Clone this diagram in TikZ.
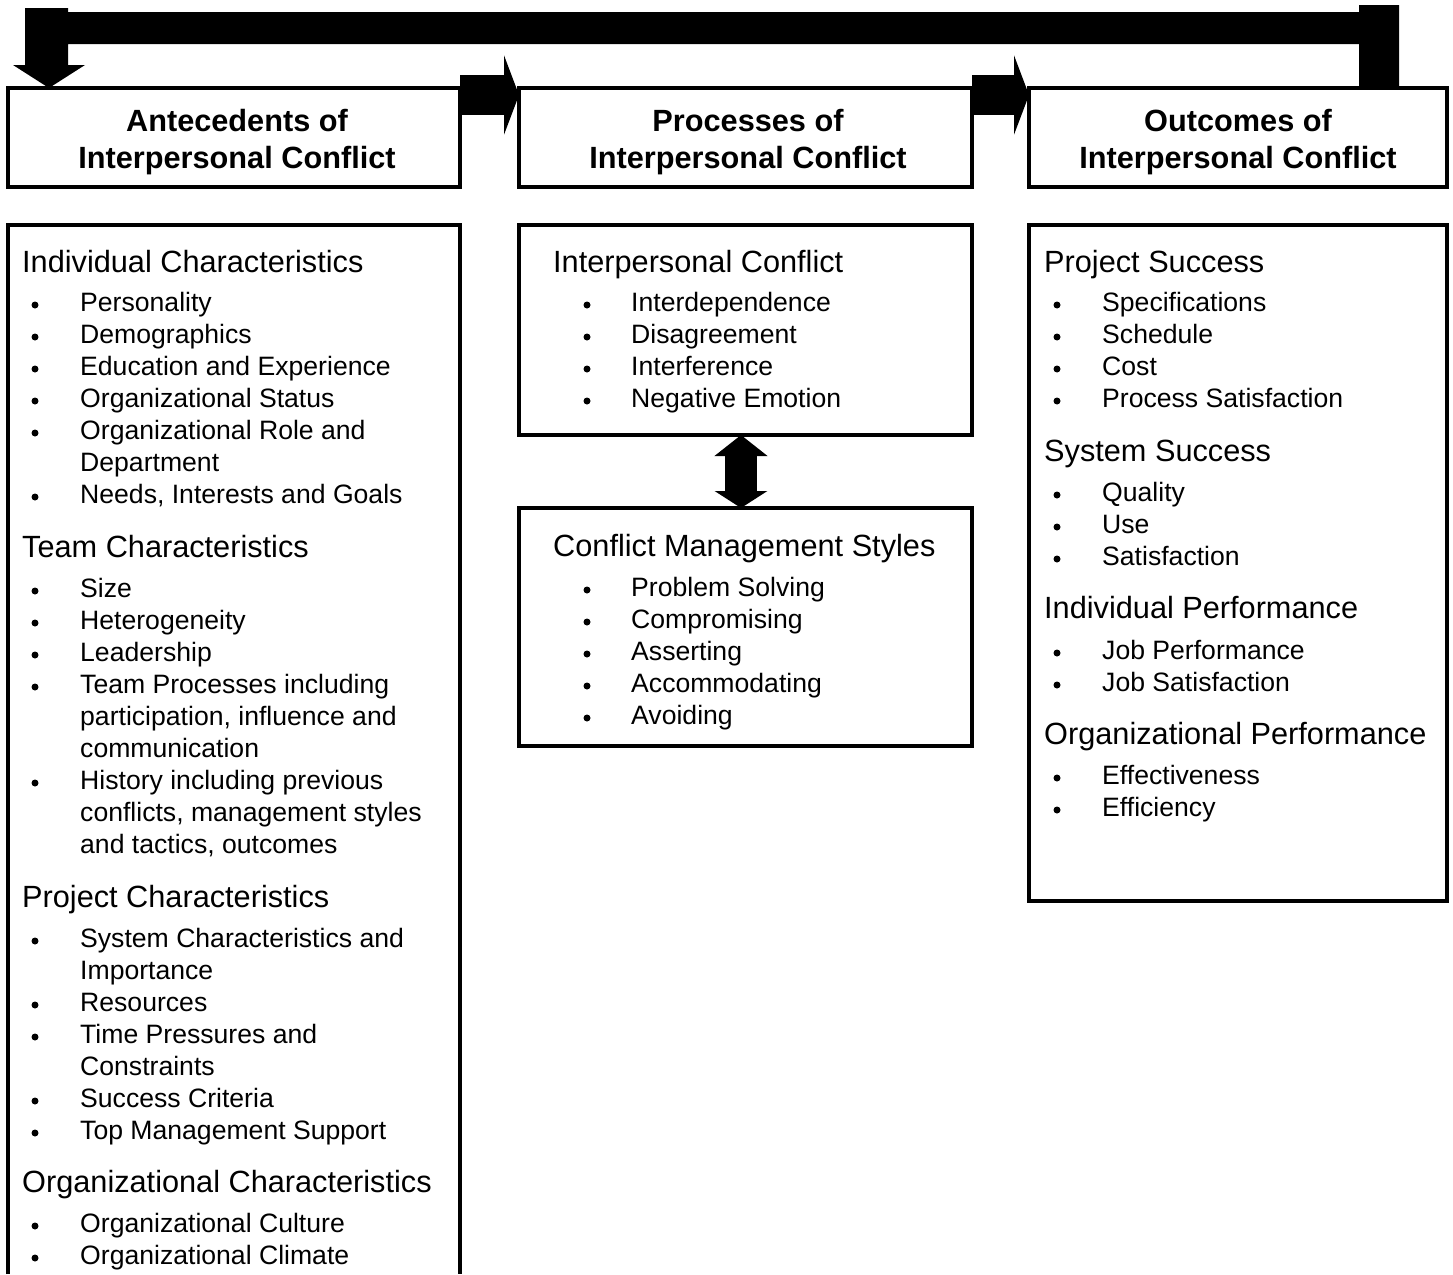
\documentclass[tikz,border=0pt]{standalone}
\usepackage{fontspec}
\setmainfont{Liberation Sans}
\usetikzlibrary{arrows.meta}
\newcommand\hdrfont{\fontsize{30.7}{33}\selectfont\bfseries}
\newcommand\secfont{\fontsize{30.7}{36}\selectfont}
\newcommand\itmfont{\fontsize{26.6}{32}\selectfont}
\begin{document}
\begin{tikzpicture}[x=1pt,y=-1pt,
  frame/.style={draw, line width=3.5pt, inner sep=0, outer sep=0},
  openbox/.style={inner sep=0, outer sep=0},
  wire/.style={line width=3.5pt},
  blockarrow/.style={line width=40pt, -{Triangle[length=15pt,width=79pt]}},
  dblarrow/.style={line width=32pt, {Triangle[length=21pt,width=52pt]}-{Triangle[length=17pt,width=52pt]}},
  hdr/.style={anchor=base, inner sep=0, font=\hdrfont},
  sec/.style={anchor=base west, inner sep=0, font=\secfont},
  itm/.style={anchor=base west, inner sep=0, font=\itmfont},
  dot/.style={circle, fill, inner sep=0, minimum size=7pt}]
\useasboundingbox (0,0) rectangle (1453,1274);

% header boxes
\node[frame, minimum width=452pt, minimum height=99pt] (A) at (234,137.5) {};
\node[frame, minimum width=453pt, minimum height=99pt] (B) at (745.5,137.5) {};
\node[frame, minimum width=418pt, minimum height=99pt] (C) at (1238,137.5) {};
\node[hdr] (A-t1) at (237,131) {Antecedents of};
\node[hdr] (A-t2) at (237,168) {Interpersonal Conflict};
\node[hdr] (B-t1) at (748,131) {Processes of};
\node[hdr] (B-t2) at (748,168) {Interpersonal Conflict};
\node[hdr] (C-t1) at (1238,131) {Outcomes of};
\node[hdr] (C-t2) at (1238,168) {Interpersonal Conflict};

% forward arrows between the stages
\draw[blockarrow] ([yshift=-7pt]A.north east) -- ([yshift=-7pt]B.north west);
\draw[blockarrow] ([yshift=-7pt]B.north east) -- ([yshift=-7pt]C.north west);

% feedback from outcomes back to antecedents
\fill (C.north -| 1359,0) -- (1359,44) -- (68,44) -- (68,65) -- (85,65)
  -- (A.north -| 49,0) -- (13,65) -- (25,65) -- (25,8) -- (68,8) -- (68,12)
  -- (1359,12) -- (1359,5) -- (1399,5) -- (C.north -| 1399,0) -- cycle;

% content boxes
\node[openbox, minimum width=452pt, minimum height=1049pt] (L) at (234,749.5) {};
\draw[wire] (L.south west) -- (L.north west) -- (L.north east) -- (L.south east);
\node[frame, minimum width=453pt, minimum height=210pt] (M1) at (745.5,330) {};
\node[frame, minimum width=453pt, minimum height=238pt] (M2) at (745.5,627) {};
\node[frame, minimum width=418pt, minimum height=676pt] (R) at (1238,563) {};

\draw[dblarrow] ([xshift=-4.5pt]M1.south) -- ([xshift=-4.5pt]M2.north);

% antecedents list
\foreach \y/\k/\t [count=\n] in {
  272/0/{Individual Characteristics},
  311/1/{Personality},
  343/1/{Demographics},
  375/1/{Education and Experience},
  407/1/{Organizational Status},
  439/1/{Organizational Role and},
  471/2/{Department},
  503/1/{Needs, Interests and Goals},
  557/0/{Team Characteristics},
  597/1/{Size},
  629/1/{Heterogeneity},
  661/1/{Leadership},
  693/1/{Team Processes including},
  725/2/{participation, influence and},
  757/2/{communication},
  789/1/{History including previous},
  821/2/{conflicts, management styles},
  853/2/{and tactics, outcomes},
  907/0/{Project Characteristics},
  947/1/{System Characteristics and},
  979/2/{Importance},
  1011/1/{Resources},
  1043/1/{Time Pressures and},
  1075/2/{Constraints},
  1107/1/{Success Criteria},
  1139/1/{Top Management Support},
  1192/0/{Organizational Characteristics},
  1232/1/{Organizational Culture},
  1264/1/{Organizational Climate}}{
  \ifcase\k
    \node[sec] (L-\n) at (22,\y) {\t};
  \or
    \node[dot] (L-\n-dot) at (35,\y-6) {};
    \node[itm] (L-\n) at (80,\y) {\t};
  \or
    \node[itm] (L-\n) at (80,\y) {\t};
  \fi
}

% processes lists
\foreach \y/\k/\t [count=\n] in {
  272/0/{Interpersonal Conflict},
  311/1/{Interdependence},
  343/1/{Disagreement},
  375/1/{Interference},
  407/1/{Negative Emotion},
  556/0/{Conflict Management Styles},
  596/1/{Problem Solving},
  628/1/{Compromising},
  660/1/{Asserting},
  692/1/{Accommodating},
  724/1/{Avoiding}}{
  \ifcase\k
    \node[sec] (M-\n) at (553,\y) {\t};
  \or
    \node[dot] (M-\n-dot) at (587,\y-6) {};
    \node[itm] (M-\n) at (631,\y) {\t};
  \fi
}

% outcomes list
\foreach \y/\k/\t [count=\n] in {
  272/0/{Project Success},
  311/1/{Specifications},
  343/1/{Schedule},
  375/1/{Cost},
  407/1/{Process Satisfaction},
  461/0/{System Success},
  501/1/{Quality},
  533/1/{Use},
  565/1/{Satisfaction},
  618/0/{Individual Performance},
  659/1/{Job Performance},
  691/1/{Job Satisfaction},
  744/0/{Organizational Performance},
  784/1/{Effectiveness},
  816/1/{Efficiency}}{
  \ifcase\k
    \node[sec] (R-\n) at (1044,\y) {\t};
  \or
    \node[dot] (R-\n-dot) at (1057,\y-6) {};
    \node[itm] (R-\n) at (1102,\y) {\t};
  \fi
}
\end{tikzpicture}
\end{document}
